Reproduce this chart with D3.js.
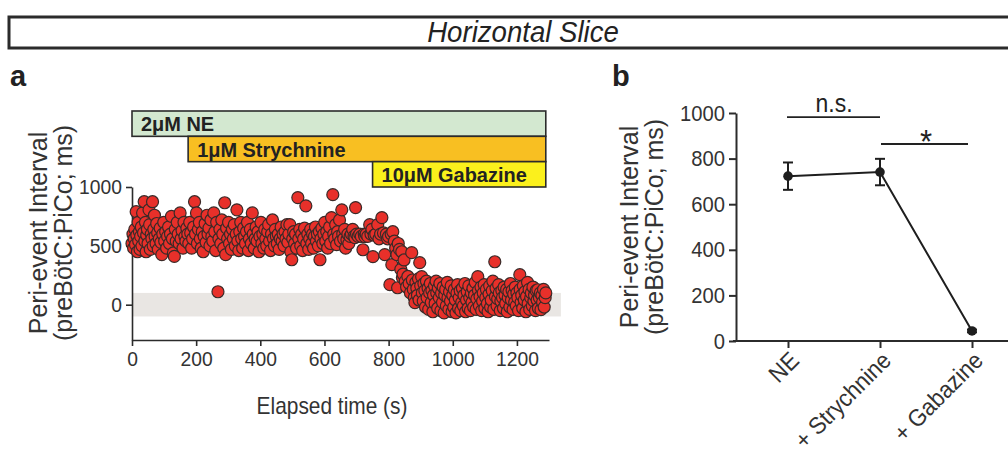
<!DOCTYPE html>
<html>
<head>
<meta charset="utf-8">
<script src="https://cdn.jsdelivr.net/npm/d3@7"></script>
<style>
  html, body { margin: 0; padding: 0; background: #fff; }
  svg { display: block; font-family: "Liberation Sans", Arial, Helvetica, sans-serif; }
</style>
</head>
<body>
<svg id="chart" width="1008" height="457"></svg>
<script>
// ---------------- DATA ----------------
const titleText = "Horizontal Slice";

// Panel a: drug application bars (seconds)
const drugLabels = ["2μM NE", "1μM Strychnine", "10μM Gabazine"];
const drugStart = [0, 175, 750];
const drugEnd = [1290, 1290, 1290];
const drugColors = ["#d3e8d0", "#f8bf22", "#fbf01c"];

// Panel a: ticks
const aXTicks = [0, 200, 400, 600, 800, 1000, 1200];
const aYTicks = [0, 500, 1000];
const noiseBand = [-100, 100];

// Panel a scatter: [elapsed time (s), peri-event interval (ms)]
const phaseNE = [
  [0,520],[3,600],[5,480],[7,560],[9,640],[11,510],[13,790],[15,590],[17,450],[19,700],
  [21,540],[23,620],[25,470],[27,580],[29,660],[31,500],[33,780],[36,610],[38,875],[40,540],
  [42,700],[44,450],[46,590],[48,640],[50,520],[53,806],[55,680],[57,470],[60,600],[62,560],
  [64,875],[66,500],[68,640],[70,760],[72,580],[75,520],[77,690],[80,610],[82,470],[85,560],
  [88,650],[90,530],[93,425],[96,600],[99,700],[102,540],[105,620],[108,480],[111,580],[114,660],
  [117,520],[120,600],[123,750],[126,560],[129,440],[132,410],[135,640],[138,540],[141,700],[144,600],
  [147,520],[150,780],[153,560],[156,630],[159,480],[162,700],[165,580],[168,540],[171,650],[174,600]
];
const phaseStrychnine = [
  [177,520],[180,700],[183,610],[186,480],[189,560],[192,660],[195,875],[198,600],[201,780],[204,520],
  [207,640],[210,700],[213,560],[216,480],[219,620],[222,450],[225,580],[228,690],[231,530],[234,760],
  [237,600],[240,650],[243,500],[246,720],[249,580],[252,540],[255,780],[258,620],[261,460],[264,700],
  [268,110],[271,560],[274,640],[277,520],[280,720],[283,600],[286,480],[289,866],[292,425],[295,650],
  [298,560],[301,700],[304,520],[307,600],[310,470],[313,640],[316,560],[319,680],[322,500],[325,600],
  [327,806],[330,540],[333,460],[336,620],[339,700],[342,560],[345,480],[348,650],[351,580],[354,520],
  [357,620],[360,700],[363,460],[366,560],[369,640],[372,520],[375,780],[378,600],[381,480],[384,560],
  [387,660],[390,540],[393,620],[396,450],[399,580],[402,700],[405,520],[408,600],[411,480],[414,640],
  [417,560],[420,500],[423,620],[426,680],[429,540],[432,460],[435,600],[438,720],[441,560],[444,500],
  [447,640],[450,580],[453,520],[456,600],[459,470],[462,560],[465,660],[468,540],[471,600],[474,500],
  [477,620],[480,560],[483,680],[486,530],[489,600],[492,680],[495,450],[498,382],[501,560],[504,620],
  [507,520],[510,600],[513,480],[517,910],[520,560],[523,640],[526,500],[529,600],[532,460],[535,560],
  [538,650],[542,840],[545,520],[548,600],[551,470],[554,560],[557,640],[560,520],[563,600],[566,480],
  [569,580],[572,660],[575,540],[578,600],[581,500],[584,620],[586,382],[589,560],[592,650],[595,520],
  [598,600],[601,700],[604,540],[607,620],[610,480],[613,580],[616,660],[619,520],[622,740],[626,935],
  [629,600],[632,560],[635,680],[638,510],[641,620],[644,580],[647,720],[650,540],[654,806],[657,600],
  [660,560],[663,640],[666,480],[670,552],[673,600],[676,520],[680,580],[684,600],[688,640],[692,580],
  [695,570],[697,825],[700,600],[705,580],[710,600],[715,580],[720,467],[724,600],[726,578],[730,600],
  [735,580],[741,680],[745,600],[748,640]
];
const phaseGabazine = [
  [751,408],[755,590],[760,600],[766,680],[770,560],[775,600],[779,740],[784,610],[788,425],[793,600],
  [797,560],[800,580],[804,170],[808,600],[810,340],[813,620],[818,540],[822,480],[826,425],[828,144],
  [830,520],[834,470],[838,300],[841,450],[843,230],[845,260],[848,380],[852,200],[856,150],[860,240],
  [864,180],[868,100],[872,442],[874,210],[877,130],[880,60],[882,17],[885,190],[888,140],[890,80],
  [893,220],[895,40],[897,357],[900,160],[903,238],[905,100],[908,30],[910,180],[913,120],[915,-20],
  [918,200],[920,60],[923,140],[925,-40],[928,100],[930,180],[933,20],[935,120],[938,-60],[940,80],
  [943,160],[945,10],[948,200],[950,100],[953,-30],[955,140],[958,60],[960,180],[963,-50],[965,100],
  [968,20],[970,150],[973,-70],[975,80],[978,130],[980,-10],[983,190],[985,60],[988,-40],[990,110],
  [993,30],[995,160],[998,-60],[1000,80],[1003,-20],[1005,130],[1008,40],[1010,-70],[1013,100],[1015,170],
  [1018,-30],[1020,60],[1023,120],[1025,-50],[1028,20],[1030,140],[1033,-10],[1035,80],[1038,180],[1040,-60],
  [1043,40],[1045,110],[1048,-30],[1050,160],[1053,60],[1055,-50],[1058,100],[1060,20],[1063,140],[1065,-20],
  [1068,80],[1070,190],[1073,-40],[1075,50],[1078,238],[1080,120],[1083,-10],[1085,70],[1088,150],[1090,-50],
  [1093,30],[1095,100],[1098,170],[1100,-30],[1103,60],[1105,130],[1108,10],[1110,-60],[1113,90],[1115,160],
  [1118,-20],[1120,40],[1123,120],[1125,200],[1128,-40],[1131,365],[1133,70],[1135,140],[1138,-10],[1140,50],
  [1143,170],[1145,100],[1148,-50],[1150,30],[1153,120],[1155,60],[1158,-30],[1160,150],[1163,80],[1165,10],
  [1168,130],[1170,-60],[1173,60],[1175,110],[1178,-20],[1180,180],[1183,40],[1185,120],[1188,-40],[1190,90],
  [1193,20],[1195,150],[1198,-10],[1200,100],[1203,60],[1205,-50],[1209,255],[1210,130],[1213,20],[1215,80],
  [1218,-30],[1220,160],[1223,40],[1225,110],[1228,-60],[1230,70],[1233,190],[1235,10],[1238,130],[1240,-40],
  [1243,60],[1245,100],[1248,-10],[1250,150],[1253,30],[1255,80],[1258,-50],[1260,120],[1263,40],[1265,127],
  [1267,-30],[1270,60],[1273,100],[1275,-42],[1278,80],[1280,20],[1283,130],[1285,-20],[1288,60],[1290,100]
];

// Panel b: summary
const bCategories = ["NE", "+ Strychnine", "+ Gabazine"];
const bMeans = [723, 741, 44];
const bErrors = [60, 58, 6];
const bYTicks = [0, 200, 400, 600, 800, 1000];
const sigLabels = ["n.s.", "*"];
const sigFrom = [0, 1];
const sigTo = [1, 2];
const sigLevel = [982, 864];

// ---------------- DRAW ----------------
const svg = d3.select("#chart");
const ink = "#2b2b2b";
const txt = "#333";
const fmt = d3.format("d");
const FONT = "'Liberation Sans', Arial, sans-serif";

// condensed text helper (the figure uses a narrow Helvetica)
function ctext(parent, x, y, str, size, sx, opts = {}) {
  const g = parent.append("g").attr("transform", `translate(${x},${y}) scale(${sx},1)`);
  const t = g.append("text").attr("x", 0).attr("y", 0).attr("font-size", size)
    .attr("fill", opts.fill || txt).attr("text-anchor", opts.anchor || "start").text(str);
  if (opts.italic) t.attr("font-style", "italic");
  if (opts.bold) t.attr("font-weight", "bold");
  return t;
}
function condenseTicks(g, size, sx) {
  g.selectAll(".tick text").each(function () {
    const t = d3.select(this);
    const x = +t.attr("x") || 0;
    t.attr("x", x / sx).attr("transform", `scale(${sx},1)`)
      .attr("font-size", size).attr("fill", txt).style("font-family", FONT);
  });
}

// Title box
svg.append("rect").attr("x", 9).attr("y", 17).attr("width", 1040).attr("height", 31)
  .attr("fill", "#fff").attr("stroke", ink).attr("stroke-width", 3);
ctext(svg, 523, 42, titleText, 30, 0.92, { anchor: "middle", italic: true, fill: "#222" });

// Panel letters
svg.append("text").attr("x", 10).attr("y", 86).attr("font-size", 29).attr("font-weight", "bold").attr("fill", "#222").text("a");
svg.append("text").attr("x", 612).attr("y", 86).attr("font-size", 29).attr("font-weight", "bold").attr("fill", "#222").text("b");

// ----- Panel a -----
const xa = d3.scaleLinear().domain([0, 1300]).range([132, 549]);
const ya = d3.scaleLinear().domain([-300, 1000]).range([340, 187]);
const rowA = d3.scaleBand().domain(d3.range(drugLabels.length)).range([111, 187]);

// gray band
svg.append("rect")
  .attr("x", xa(0)).attr("width", xa(1337) - xa(0))
  .attr("y", ya(noiseBand[1])).attr("height", ya(noiseBand[0]) - ya(noiseBand[1]))
  .attr("fill", "#e9e6e3");

// drug bars
const drugs = svg.append("g");
drugLabels.forEach((lab, i) => {
  drugs.append("rect")
    .attr("x", xa(drugStart[i])).attr("y", rowA(i))
    .attr("width", xa(drugEnd[i]) - xa(drugStart[i])).attr("height", rowA.bandwidth())
    .attr("fill", drugColors[i]).attr("stroke", ink).attr("stroke-width", 1.6);
  ctext(drugs, xa(drugStart[i]) + 9, rowA(i) + rowA.bandwidth() / 2 + 7.5, lab, 21, 0.95, { bold: true, fill: "#222" });
});

// axes a
const axA_y = svg.append("g").attr("transform", `translate(${xa(0)},0)`)
  .call(d3.axisLeft(ya).tickValues(aYTicks).tickFormat(fmt).tickSize(6).tickSizeOuter(0).tickPadding(4));
const axA_x = svg.append("g").attr("transform", `translate(0,${ya(-300)})`)
  .call(d3.axisBottom(xa).tickValues(aXTicks).tickFormat(fmt).tickSize(6).tickSizeOuter(0).tickPadding(5));
[axA_y, axA_x].forEach(g => {
  g.selectAll("path, line").attr("stroke", ink).attr("stroke-width", 1.6);
  condenseTicks(g, 21, 0.92);
});

// scatter
const allPts = phaseNE.concat(phaseStrychnine, phaseGabazine);
svg.append("g").selectAll("circle").data(allPts).join("circle")
  .attr("cx", d => xa(d[0])).attr("cy", d => ya(d[1])).attr("r", 6)
  .attr("fill", "#e8302a").attr("stroke", "#3a2a28").attr("stroke-width", 1.2);

// axis labels a
ctext(svg, 332, 414, "Elapsed time (s)", 24, 0.87, { anchor: "middle" });
const ylabA = svg.append("g").attr("transform", "translate(47,233) rotate(-90)");
ctext(ylabA, 0, 0, "Peri-event Interval", 26, 0.96, { anchor: "middle" });
ctext(ylabA, 0, 25, "(preBötC:PiCo; ms)", 26, 0.96, { anchor: "middle" });

// ----- Panel b -----
const xb = d3.scalePoint().domain(bCategories).range([788, 972]);
const yb = d3.scaleLinear().domain([0, 1000]).range([341, 113]);

const axB_y = svg.append("g").attr("transform", "translate(736,0)")
  .call(d3.axisLeft(yb).tickValues(bYTicks).tickFormat(fmt).tickSize(7).tickSizeOuter(0).tickPadding(4));
const axB_x = svg.append("g").attr("transform", `translate(0,${yb(0)})`)
  .call(d3.axisBottom(xb).tickSize(7).tickSizeOuter(0));
axB_x.select(".domain").remove();
svg.append("line").attr("x1", 733).attr("x2", 1010).attr("y1", yb(0)).attr("y2", yb(0))
  .attr("stroke", ink).attr("stroke-width", 2);
[axB_y, axB_x].forEach(g => {
  g.selectAll("path, line").attr("stroke", ink).attr("stroke-width", 2);
});
condenseTicks(axB_y, 22, 0.92);
axB_x.selectAll("text")
  .attr("text-anchor", "end").attr("dy", null).attr("y", 0)
  .attr("transform", "translate(12,21) rotate(-45) scale(0.93,1)")
  .attr("font-size", 24).attr("fill", txt).style("font-family", FONT);

// line + error bars
const bData = bCategories.map((c, i) => ({ c, m: bMeans[i], e: bErrors[i] }));
svg.append("path").datum(bData)
  .attr("d", d3.line().x(d => xb(d.c)).y(d => yb(d.m)))
  .attr("fill", "none").attr("stroke", "#1e1e1e").attr("stroke-width", 2);
const eb = svg.append("g").attr("stroke", "#1e1e1e").attr("stroke-width", 2);
bData.forEach(d => {
  eb.append("line").attr("x1", xb(d.c)).attr("x2", xb(d.c)).attr("y1", yb(d.m - d.e)).attr("y2", yb(d.m + d.e));
  [d.m - d.e, d.m + d.e].forEach(v => {
    eb.append("line").attr("x1", xb(d.c) - 5).attr("x2", xb(d.c) + 5).attr("y1", yb(v)).attr("y2", yb(v));
  });
});
svg.append("g").selectAll("circle").data(bData).join("circle")
  .attr("cx", d => xb(d.c)).attr("cy", d => yb(d.m)).attr("r", 4.8).attr("fill", "#1e1e1e");

// significance
sigLabels.forEach((s, i) => {
  const x1 = xb(bCategories[sigFrom[i]]), x2 = xb(bCategories[sigTo[i]]);
  const y = yb(sigLevel[i]);
  svg.append("line").attr("x1", x1 + (i ? 1 : -1)).attr("x2", x2 - (i ? 4 : 0))
    .attr("y1", y).attr("y2", y).attr("stroke", "#222").attr("stroke-width", 1.8);
  ctext(svg, (x1 + x2) / 2, i ? y + 9 : y - 5, s, i ? 34 : 25, 0.92, { anchor: "middle", fill: "#222" });
});

// y label b
const ylabB = svg.append("g").attr("transform", "translate(638,227) rotate(-90)");
ctext(ylabB, 0, 0, "Peri-event Interval", 26, 0.96, { anchor: "middle" });
ctext(ylabB, 0, 25, "(preBötC:PiCo; ms)", 26, 0.96, { anchor: "middle" });
</script>
</body>
</html>
